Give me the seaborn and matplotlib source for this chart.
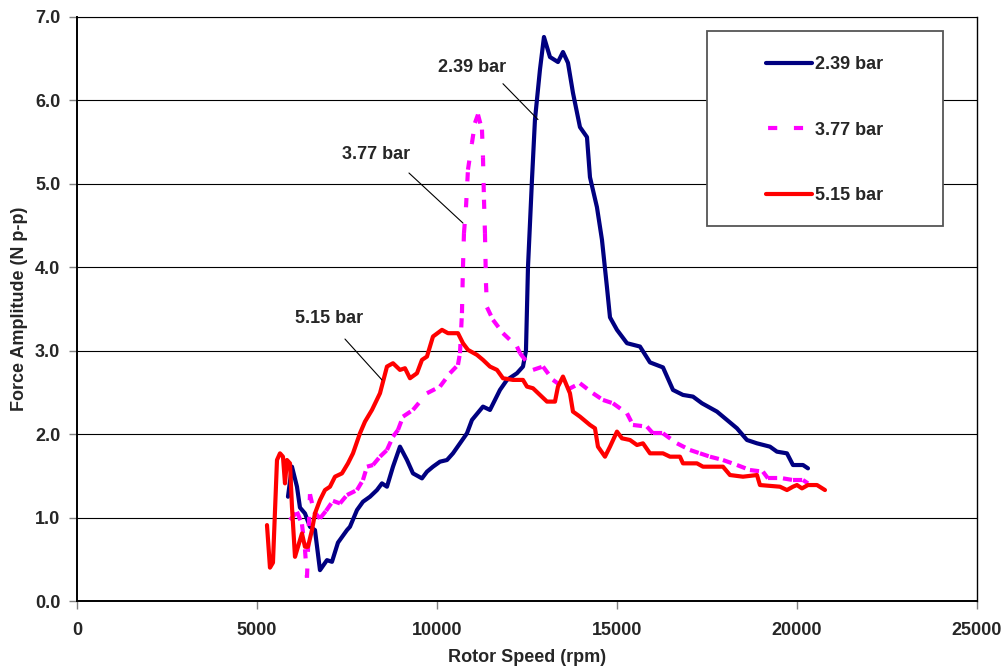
import matplotlib
matplotlib.use("Agg")
import matplotlib.pyplot as plt
from matplotlib.lines import Line2D
from matplotlib.patches import Rectangle
from matplotlib.ticker import FormatStrFormatter
import seaborn as sns
import pandas as pd
import numpy as np

# 2.39 bar
rpm_239 = [5861, 5972, 6111, 6194, 6333, 6472, 6611, 6750, 6944, 7083,
           7250, 7500, 7583, 7778, 7944, 8139, 8333, 8472, 8611, 8778,
           8972, 9167, 9333, 9583, 9722, 9889, 10083, 10278, 10444, 10639,
           10833, 10972, 11278, 11472, 11750, 11944, 12222, 12389, 12472, 12528,
           12639, 12722, 12861, 12972, 13139, 13361, 13500, 13639, 13778, 13972,
           14167, 14250, 14444, 14583, 14722, 14806, 15000, 15278, 15639, 15917,
           16278, 16556, 16833, 17111, 17361, 17528, 17778, 18056, 18333, 18611,
           18889, 19250, 19444, 19722, 19889, 20167, 20306]
amp_239 = [1.25, 1.61, 1.37, 1.12, 1.05, 0.89, 0.85, 0.37, 0.49, 0.47,
           0.70, 0.85, 0.89, 1.09, 1.19, 1.25, 1.33, 1.41, 1.37, 1.61,
           1.85, 1.69, 1.53, 1.47, 1.55, 1.61, 1.67, 1.69, 1.77, 1.89,
           2.01, 2.17, 2.33, 2.29, 2.53, 2.65, 2.73, 2.81, 3.00, 4.00,
           5.05, 5.77, 6.37, 6.76, 6.52, 6.46, 6.58, 6.45, 6.09, 5.68,
           5.56, 5.08, 4.72, 4.33, 3.76, 3.40, 3.25, 3.09, 3.05, 2.86,
           2.80, 2.53, 2.47, 2.45, 2.37, 2.33, 2.27, 2.17, 2.07, 1.93,
           1.89, 1.85, 1.79, 1.77, 1.63, 1.63, 1.59]

# 3.77 bar
rpm_377 = [5917, 6111, 6250, 6333, 6389, 6472, 6583, 6750, 6917, 7111,
           7306, 7500, 7778, 7944, 8056, 8222, 8417, 8611, 8778, 8917,
           9056, 9333, 9722, 10083, 10361, 10583, 10639, 10694, 10722, 10750,
           10806, 10861, 10972, 11056, 11139, 11250, 11278, 11306, 11333, 11361,
           11389, 11556, 11833, 12222, 12306, 12667, 12944, 13222, 13611, 13972,
           14333, 14611, 14889, 15278, 15444, 15833, 16000, 16278, 16667, 17028,
           17306, 17583, 17944, 18333, 18694, 19056, 19194, 19611, 19889, 20167,
           20306]
amp_377 = [0.97, 1.07, 0.92, 0.62, 0.28, 1.28, 1.07, 0.99, 1.08, 1.20,
           1.17, 1.27, 1.33, 1.45, 1.61, 1.63, 1.73, 1.81, 1.97, 2.05,
           2.21, 2.29, 2.49, 2.57, 2.73, 2.83, 2.97, 3.45, 4.00, 4.41,
           4.72, 5.17, 5.49, 5.73, 5.83, 5.65, 5.32, 4.81, 4.41, 3.81,
           3.52, 3.37, 3.21, 3.05, 2.97, 2.77, 2.81, 2.65, 2.53, 2.61,
           2.49, 2.41, 2.37, 2.25, 2.11, 2.09, 2.01, 2.01, 1.89, 1.81,
           1.77, 1.73, 1.69, 1.63, 1.57, 1.55, 1.47, 1.47, 1.45, 1.45,
           1.41]

# 5.15 bar
rpm_515 = [5278, 5361, 5444, 5556, 5639, 5722, 5778, 5833, 5917, 5972,
           6056, 6139, 6250, 6333, 6417, 6528, 6611, 6750, 6889, 7028,
           7167, 7361, 7528, 7667, 7861, 8000, 8194, 8417, 8611, 8778,
           8972, 9111, 9250, 9444, 9583, 9722, 9889, 10139, 10306, 10583,
           10722, 10861, 11111, 11278, 11472, 11667, 11833, 12111, 12389, 12500,
           12667, 12861, 13056, 13278, 13361, 13500, 13694, 13778, 13972, 14250,
           14389, 14472, 14667, 14806, 15000, 15139, 15361, 15556, 15722, 15917,
           16278, 16472, 16750, 16833, 17222, 17389, 17944, 18139, 18500, 18889,
           18972, 19528, 19722, 19889, 20000, 20139, 20306, 20556, 20778]
amp_515 = [0.91, 0.40, 0.46, 1.69, 1.77, 1.73, 1.41, 1.69, 1.65, 1.13,
           0.53, 0.65, 0.81, 0.65, 0.65, 0.85, 1.05, 1.21, 1.33, 1.37,
           1.49, 1.53, 1.65, 1.77, 2.01, 2.15, 2.29, 2.49, 2.81, 2.85,
           2.77, 2.79, 2.67, 2.73, 2.89, 2.93, 3.17, 3.25, 3.21, 3.21,
           3.09, 3.01, 2.95, 2.89, 2.81, 2.77, 2.67, 2.65, 2.65, 2.57,
           2.55, 2.47, 2.39, 2.39, 2.57, 2.69, 2.49, 2.27, 2.21, 2.11,
           2.07, 1.85, 1.73, 1.85, 2.03, 1.95, 1.93, 1.87, 1.89, 1.77,
           1.77, 1.73, 1.73, 1.65, 1.65, 1.61, 1.61, 1.51, 1.49, 1.51,
           1.39, 1.37, 1.33, 1.37, 1.39, 1.35, 1.39, 1.39, 1.33]

series_labels = ["2.39 bar", "3.77 bar", "5.15 bar"]
series_colors = ["#000080", "#FF00FF", "#FF0000"]

# callouts: label, text position, leader start, leader end (data units)
callouts = [
    ("2.39 bar", (10972, 6.40), (11833, 6.20), (12806, 5.77)),
    ("3.77 bar", (8306, 5.35), (9222, 5.13), (10722, 4.53)),
    ("5.15 bar", (7000, 3.39), (7444, 3.14), (8472, 2.65)),
]

sns.set_style("white")
plt.rcParams["font.family"] = ["Liberation Sans", "DejaVu Sans"]
plt.rcParams["font.weight"] = "bold"

fig = plt.figure(figsize=(10.05, 6.71), dpi=100)
ax = fig.add_axes([0.0766, 0.1043, 0.8955, 0.8704])

LW = 3.0
MAG_DASH = (0, (2.2, 4.0))

sns.lineplot(x=rpm_239, y=amp_239, color=series_colors[0], lw=LW, sort=False,
             estimator=None, ax=ax, solid_capstyle="round", solid_joinstyle="round")

# excel restarts the dash pattern on every segment -> one unit per segment
seg_rows = []
for i in range(len(rpm_377) - 1):
    seg_rows.append((i, rpm_377[i], amp_377[i]))
    seg_rows.append((i, rpm_377[i + 1], amp_377[i + 1]))
seg_df = pd.DataFrame(seg_rows, columns=["seg", "rpm", "amp"])
sns.lineplot(data=seg_df, x="rpm", y="amp", units="seg", estimator=None, sort=False,
             color=series_colors[1], lw=LW, linestyle=MAG_DASH, ax=ax, legend=False)

sns.lineplot(x=rpm_515, y=amp_515, color=series_colors[2], lw=LW, sort=False,
             estimator=None, ax=ax, solid_capstyle="round", solid_joinstyle="round")

ax.set_xlim(0, 25000)
ax.set_ylim(0, 7)
ax.set_xticks(np.arange(0, 25001, 5000))
ax.set_yticks(np.arange(0, 7.01, 1.0))
ax.yaxis.set_major_formatter(FormatStrFormatter("%.1f"))
ax.yaxis.grid(True, color="black", lw=0.8)
ax.xaxis.grid(False)
ax.set_axisbelow(True)

ax.tick_params(axis="both", direction="out", length=6, width=1, color="#808080",
               labelsize=13, bottom=True, left=True)
ax.tick_params(axis="x", pad=9)
ax.tick_params(axis="y", pad=6)
for lab in ax.get_xticklabels() + ax.get_yticklabels():
    lab.set_fontweight("bold")

for side in ["left", "bottom"]:
    ax.spines[side].set_color("black")
    ax.spines[side].set_linewidth(1.4)
ax.spines["right"].set_color("black")
ax.spines["right"].set_linewidth(1.0)
ax.spines["top"].set_color("black")
ax.spines["top"].set_linewidth(0.8)

ax.set_xlabel("Rotor Speed (rpm)", fontsize=13, fontweight="bold")
ax.set_ylabel("Force Amplitude (N p-p)", fontsize=13, fontweight="bold")
ax.xaxis.set_label_coords(0.5, -0.083)
ax.yaxis.set_label_coords(-0.054, 0.5)

for label, txt, p0, p1 in callouts:
    ax.text(txt[0], txt[1], label, ha="center", va="center", fontsize=13, fontweight="bold")
    ax.annotate("", xy=p1, xytext=p0,
                arrowprops=dict(arrowstyle="-", color="black", lw=0.8, shrinkA=0, shrinkB=0))

# legend box
ax.add_patch(Rectangle((0.70, 0.642), 0.262, 0.334, transform=ax.transAxes,
                       facecolor="white", edgecolor="#555555", lw=1.3, zorder=4))
handles = [
    Line2D([], [], color=series_colors[0], lw=LW, solid_capstyle="round"),
    Line2D([], [], color=series_colors[1], lw=LW, linestyle=(5.7, (2.2, 4.0))),
    Line2D([], [], color=series_colors[2], lw=LW, solid_capstyle="round"),
]
leg = ax.legend(handles, series_labels, loc="center", bbox_to_anchor=(0.831, 0.806),
                frameon=False, handlelength=2.5, handletextpad=0.2, labelspacing=2.68,
                prop={"size": 13, "weight": "bold"})
leg.set_zorder(6)

fig.savefig("out.png", dpi=100)
